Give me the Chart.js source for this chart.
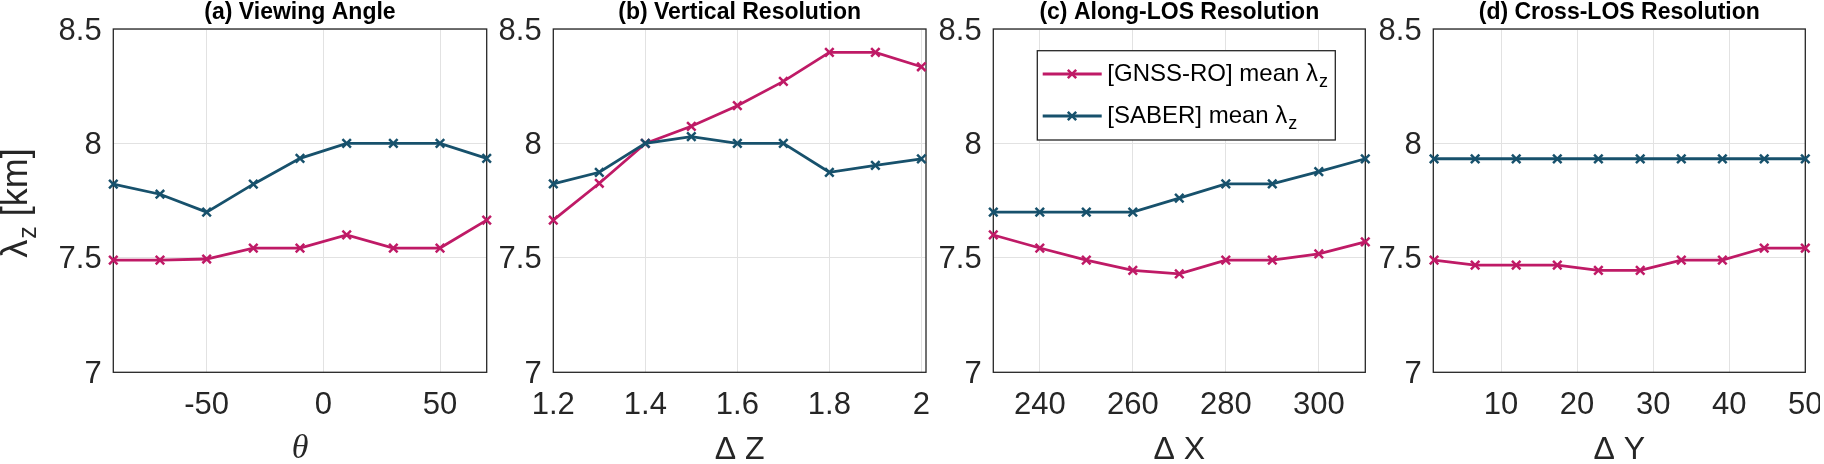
<!DOCTYPE html>
<html><head><meta charset="utf-8">
<script src="https://cdn.jsdelivr.net/npm/chart.js@4"></script>
<style>
html,body{margin:0;padding:0;background:#fff;width:1824px;height:464px;overflow:hidden;position:relative}
canvas{position:absolute;top:0}
</style></head><body>
<canvas id="c0" width="500" height="464" style="left:0px"></canvas>
<canvas id="c1" width="500" height="464" style="left:440px"></canvas>
<canvas id="c2" width="500" height="464" style="left:880px"></canvas>
<canvas id="c3" width="500" height="464" style="left:1320px"></canvas>
<script>
// ---- data ----
const panelTitles = ['(a) Viewing Angle', '(b) Vertical Resolution', '(c) Along-LOS Resolution', '(d) Cross-LOS Resolution'];
const xAxisTitles = ['θ', 'Δ Z', 'Δ X', 'Δ Y'];
const seriesNames = ['[GNSS-RO] mean λ', '[SABER] mean λ'];
const yTickValues = [7, 7.5, 8, 8.5];

const xA = [-90, -70, -50, -30, -10, 10, 30, 50, 70];
const gnssA = [7.49, 7.49, 7.495, 7.543, 7.543, 7.6, 7.543, 7.543, 7.665];
const saberA = [7.822, 7.778, 7.70, 7.822, 7.935, 8.0, 8.0, 8.0, 7.935];
const xTicksA = [-50, 0, 50];

const xB = [1.2, 1.3, 1.4, 1.5, 1.6, 1.7, 1.8, 1.9, 2.0];
const gnssB = [7.665, 7.826, 8.0, 8.075, 8.165, 8.271, 8.398, 8.398, 8.335];
const saberB = [7.823, 7.874, 8.0, 8.03, 8.0, 8.0, 7.874, 7.904, 7.933];
const xTicksB = [1.2, 1.4, 1.6, 1.8, 2];

const xC = [230, 240, 250, 260, 270, 280, 290, 300, 310];
const gnssC = [7.6, 7.543, 7.49, 7.445, 7.43, 7.49, 7.49, 7.517, 7.57];
const saberC = [7.70, 7.70, 7.70, 7.70, 7.761, 7.823, 7.823, 7.877, 7.933];
const xTicksC = [240, 260, 280, 300];

const xD = [1.2, 6.6, 12, 17.4, 22.8, 28.3, 33.7, 39.1, 44.6, 50];
const gnssD = [7.49, 7.468, 7.468, 7.468, 7.445, 7.445, 7.49, 7.49, 7.543, 7.543];
const saberD = [7.933, 7.933, 7.933, 7.933, 7.933, 7.933, 7.933, 7.933, 7.933, 7.933];
const xTicksD = [10, 20, 30, 40, 50];

const panels = [
  {x: xA, g: gnssA, s: saberA, ticks: xTicksA, min: -90, max: 70},
  {x: xB, g: gnssB, s: saberB, ticks: xTicksB, min: 1.2, max: 2.01},
  {x: xC, g: gnssC, s: saberC, ticks: xTicksC, min: 230, max: 310},
  {x: xD, g: gnssD, s: saberD, ticks: xTicksD, min: 1.1, max: 50}
];

// ---- style ----
const PINK = '#bf1a66';
const BLUE = '#17516c';
const AX = '#262626';
const GRID = '#e2e2e2';
const FONT = "'Liberation Sans', Arial, sans-serif";
const plotW = [373.4, 372.7, 372, 372];
const LEFT = 113.3, CANVAS_W = 500;

const framePlugin = {
  id: 'frame',
  beforeDatasetsDraw(chart) {
    const {ctx, chartArea: a} = chart;
    ctx.save();
    ctx.strokeStyle = AX; ctx.lineWidth = 1.3;
    ctx.strokeRect(a.left, a.top, a.right - a.left, a.bottom - a.top);
    ctx.restore();
  }
};

function drawSubText(ctx, x, y, main, sub, size, subSize, subDrop) {
  ctx.font = size + 'px ' + FONT;
  ctx.fillText(main, x, y);
  const w = ctx.measureText(main).width;
  ctx.font = subSize + 'px ' + FONT;
  ctx.fillText(sub, x + w + 1, y + subDrop);
}

const extrasPlugin = {
  id: 'extras',
  afterDraw(chart) {
    const ctx = chart.ctx;
    const idx = chart.options.plugins.extras.idx;
    ctx.save();
    ctx.fillStyle = AX;
    ctx.textBaseline = 'alphabetic';
    if (idx === 0) {
      // y-axis title  λz [km]
      ctx.translate(27, 203);
      ctx.rotate(-Math.PI / 2);
      ctx.font = '36px ' + FONT;
      const w1 = ctx.measureText('λ').width;
      const w3 = ctx.measureText(' [km]').width;
      ctx.font = '25px ' + FONT;
      const w2 = ctx.measureText('z').width;
      const W = w1 + w2 + w3 + 1;
      let u = -W / 2;
      ctx.font = '36px ' + FONT; ctx.fillText('λ', u, 0); u += w1 + 1;
      ctx.font = '25px ' + FONT; ctx.fillText('z', u, 9); u += w2;
      ctx.font = '36px ' + FONT; ctx.fillText(' [km]', u, 0);
    }
    if (idx === 2) {
      const bx = 157.3, by = 50.7, bw = 298, bh = 89.3;
      ctx.fillStyle = '#fff'; ctx.fillRect(bx, by, bw, bh);
      ctx.strokeStyle = AX; ctx.lineWidth = 1.3; ctx.strokeRect(bx, by, bw, bh);
      const rows = [74, 116];
      const cols = [PINK, BLUE];
      rows.forEach((ry, i) => {
        ctx.strokeStyle = cols[i]; ctx.lineWidth = 2.8;
        ctx.beginPath(); ctx.moveTo(162.7, ry); ctx.lineTo(221.7, ry); ctx.stroke();
        ctx.lineWidth = 2.5;
        const mx = 192, r = 4.2;
        ctx.beginPath();
        ctx.moveTo(mx - r, ry - r); ctx.lineTo(mx + r, ry + r);
        ctx.moveTo(mx - r, ry + r); ctx.lineTo(mx + r, ry - r);
        ctx.stroke();
        ctx.fillStyle = '#000';
        drawSubText(ctx, 227.3, ry + 7, seriesNames[i], 'z', 24, 18, 6);
      });
    }
    ctx.restore();
  }
};

panels.forEach((p, i) => {
  const ctx = document.getElementById('c' + i);
  const mk = (arr) => p.x.map((v, k) => ({x: v, y: arr[k]}));
  const ds = (label, arr, col) => ({
    label, data: mk(arr), borderColor: col, backgroundColor: col,
    borderWidth: 2.8, pointStyle: 'crossRot', pointRadius: 6, pointBorderWidth: 2.5,
    pointHoverRadius: 6, clip: false, tension: 0
  });
  new Chart(ctx, {
    type: 'line',
    data: {datasets: [ds(seriesNames[1], p.s, BLUE), ds(seriesNames[0], p.g, PINK)]},
    plugins: [framePlugin, extrasPlugin],
    options: {
      responsive: false, animation: false, devicePixelRatio: 1,
      layout: {padding: {left: 0, top: 0, bottom: 0, right: CANVAS_W - LEFT - plotW[i]}},
      plugins: {
        legend: {display: false}, tooltip: {enabled: false},
        extras: {idx: i},
        title: {
          display: true, text: panelTitles[i], fullSize: false, color: '#000',
          font: {family: FONT, size: 23, weight: 'bold', lineHeight: 1.1},
          padding: {top: 0, bottom: 3.7}
        }
      },
      scales: {
        x: {
          type: 'linear', min: p.min, max: p.max,
          afterBuildTicks: (s) => { s.ticks = p.ticks.map(v => ({value: v})); },
          afterFit: (s) => { s.height = 464 - 372.3; s.paddingLeft = 0; s.paddingRight = 0; },
          grid: {color: GRID, lineWidth: 1, drawTicks: false},
          border: {display: false},
          ticks: {color: AX, font: {family: FONT, size: 31}, padding: 15, maxRotation: 0, autoSkip: false,
                  callback: (v) => String(v)},
          title: {display: true, text: xAxisTitles[i], color: AX,
                  font: i === 0 ? {family: "'Liberation Serif', 'DejaVu Serif', serif", size: 34, style: 'italic', lineHeight: 0.8}
                                : {family: FONT, size: 32, lineHeight: 0.8},
                  padding: {top: 0, bottom: 1.5}}
        },
        y: {
          type: 'linear', min: 7, max: 8.5,
          afterBuildTicks: (s) => { s.ticks = yTickValues.map(v => ({value: v})); },
          afterFit: (s) => { s.width = LEFT; s.paddingTop = 0; s.paddingBottom = 0; },
          grid: {color: GRID, lineWidth: 1, drawTicks: false},
          border: {display: false},
          ticks: {color: AX, font: {family: FONT, size: 31}, padding: 11.6, labelOffset: 2,
                  callback: (v) => String(v)}
        }
      }
    }
  });
});
</script>
</body></html>
